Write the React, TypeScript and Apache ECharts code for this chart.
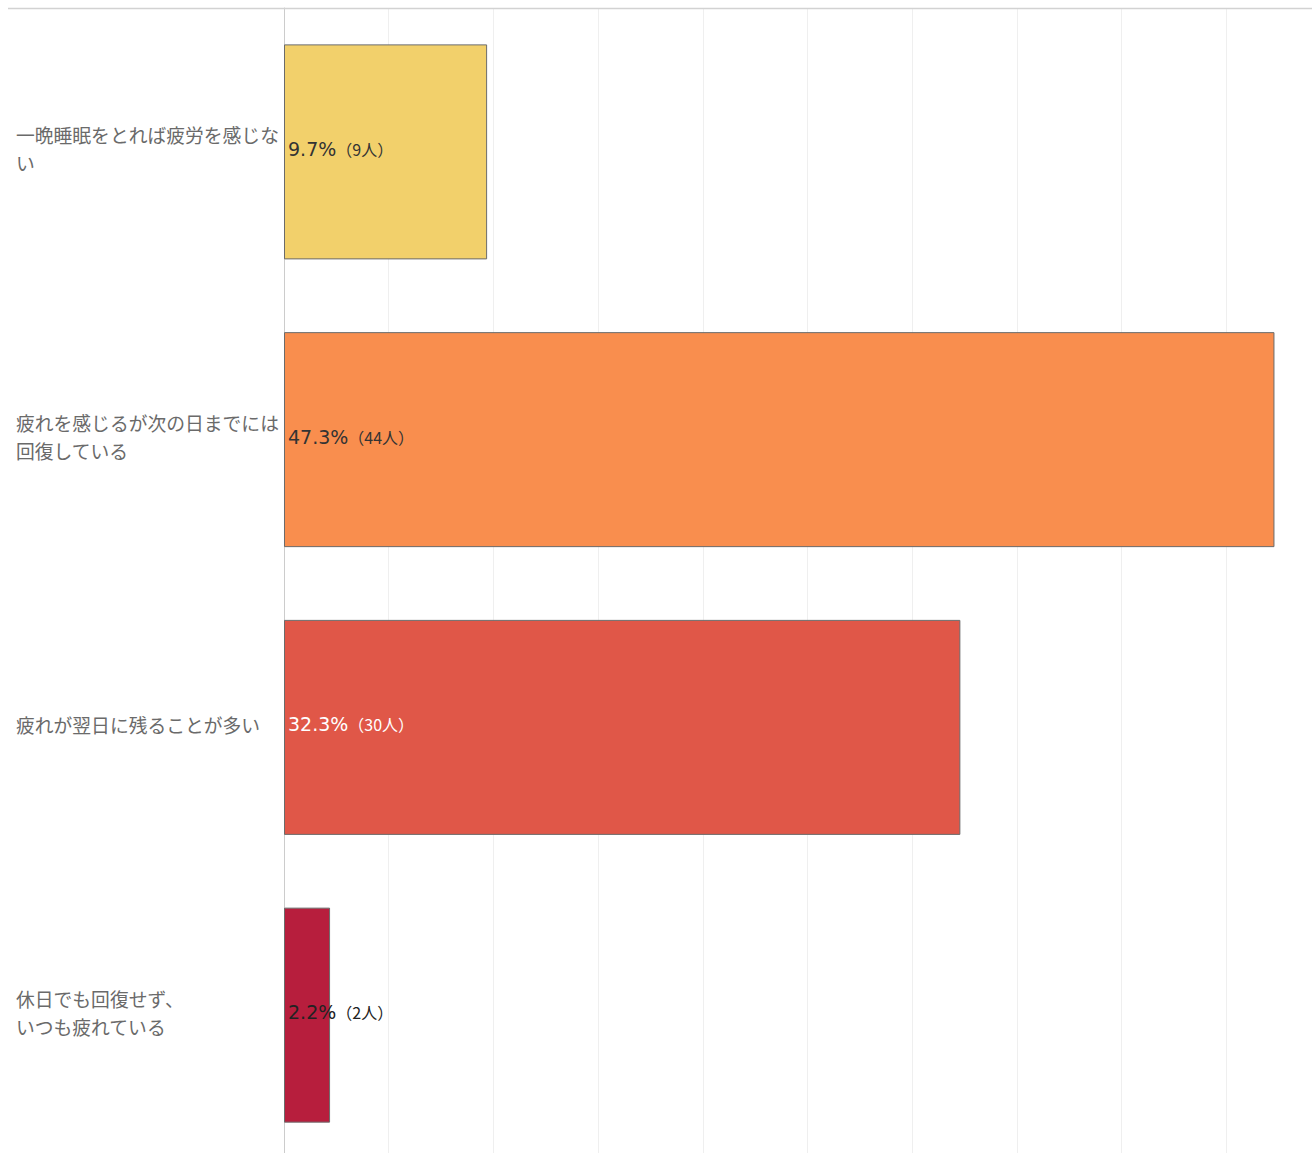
import React, { useEffect, useRef } from "react";
import * as echarts from "echarts";

const categories = [
  "一晩睡眠をとれば疲労を感じな\nい",
  "疲れを感じるが次の日までには\n回復している",
  "疲れが翌日に残ることが多い",
  "休日でも回復せず、\nいつも疲れている",
];
const percents = [9.7, 47.3, 32.3, 2.2];
const counts = [9, 44, 30, 2];
const barColors = ["#F2D06B", "#F98E4E", "#E05748", "#B71E3D"];
const labelColors = ["#333333", "#333333", "#ffffff", "#222222"];

export default function App() {
  const ref = useRef<HTMLDivElement>(null);
  useEffect(() => {
    if (!ref.current) return;
    const chart = echarts.init(ref.current, null, { renderer: "svg" });
    chart.setOption({
      animation: false,
      backgroundColor: "#ffffff",
      grid: {
        left: 284,
        top: 8,
        right: -19,
        bottom: -6,
        containLabel: false,
        outerBoundsMode: "none",
      },
      xAxis: {
        type: "value",
        min: 0,
        max: 50,
        interval: 5,
        axisLabel: { show: false },
        axisLine: { show: false },
        axisTick: { show: false },
        splitLine: { show: true, lineStyle: { color: "#efefef", width: 1 } },
      },
      yAxis: {
        type: "category",
        inverse: true,
        data: categories,
        axisLine: { show: true, lineStyle: { color: "#cccccc", width: 1 } },
        axisTick: { show: false },
        axisLabel: {
          align: "left",
          margin: 268,
          formatter: (v: string) =>
            v
              .split("\n")
              .map((l) => `{t|${l}}`)
              .join("\n") + "\n{g| }",
          rich: {
            t: {
              color: "#6a6a6a",
              fontSize: 18.8,
              lineHeight: 28,
              fontFamily: "'Noto Sans CJK JP', sans-serif",
            },
            g: { fontSize: 1, lineHeight: 6 },
          },
        },
      },
      graphic: [
        {
          type: "line",
          shape: { x1: 8, y1: 8.5, x2: 1312, y2: 8.5 },
          style: { stroke: "#d2d2d2", lineWidth: 1.5 },
          z: 100,
        },
      ],
      series: [
        {
          type: "bar",
          barWidth: 215,
          data: percents.map((v, i) => ({
            value: v,
            itemStyle: { color: barColors[i], borderColor: "#6b6b6b", borderWidth: 1 },
            label: {
              show: true,
              position: "insideLeft",
              distance: 4,
              offset: [0, -3],
              formatter: () => `{a|${v}%}{b|（${counts[i]}人）}`,
              rich: {
                a: {
                  fontSize: 19,
                  color: labelColors[i],
                  fontFamily: "'DejaVu Sans', 'Noto Sans CJK JP', sans-serif",
                },
                b: {
                  fontSize: 16,
                  color: labelColors[i],
                  fontFamily: "'Noto Sans CJK JP', sans-serif",
                },
              },
            },
          })),
        },
      ],
    });
    return () => chart.dispose();
  }, []);
  return (
    <div
      ref={ref}
      style={{ position: "absolute", left: 0, top: 0, width: 1312, height: 1153 }}
    />
  );
}
